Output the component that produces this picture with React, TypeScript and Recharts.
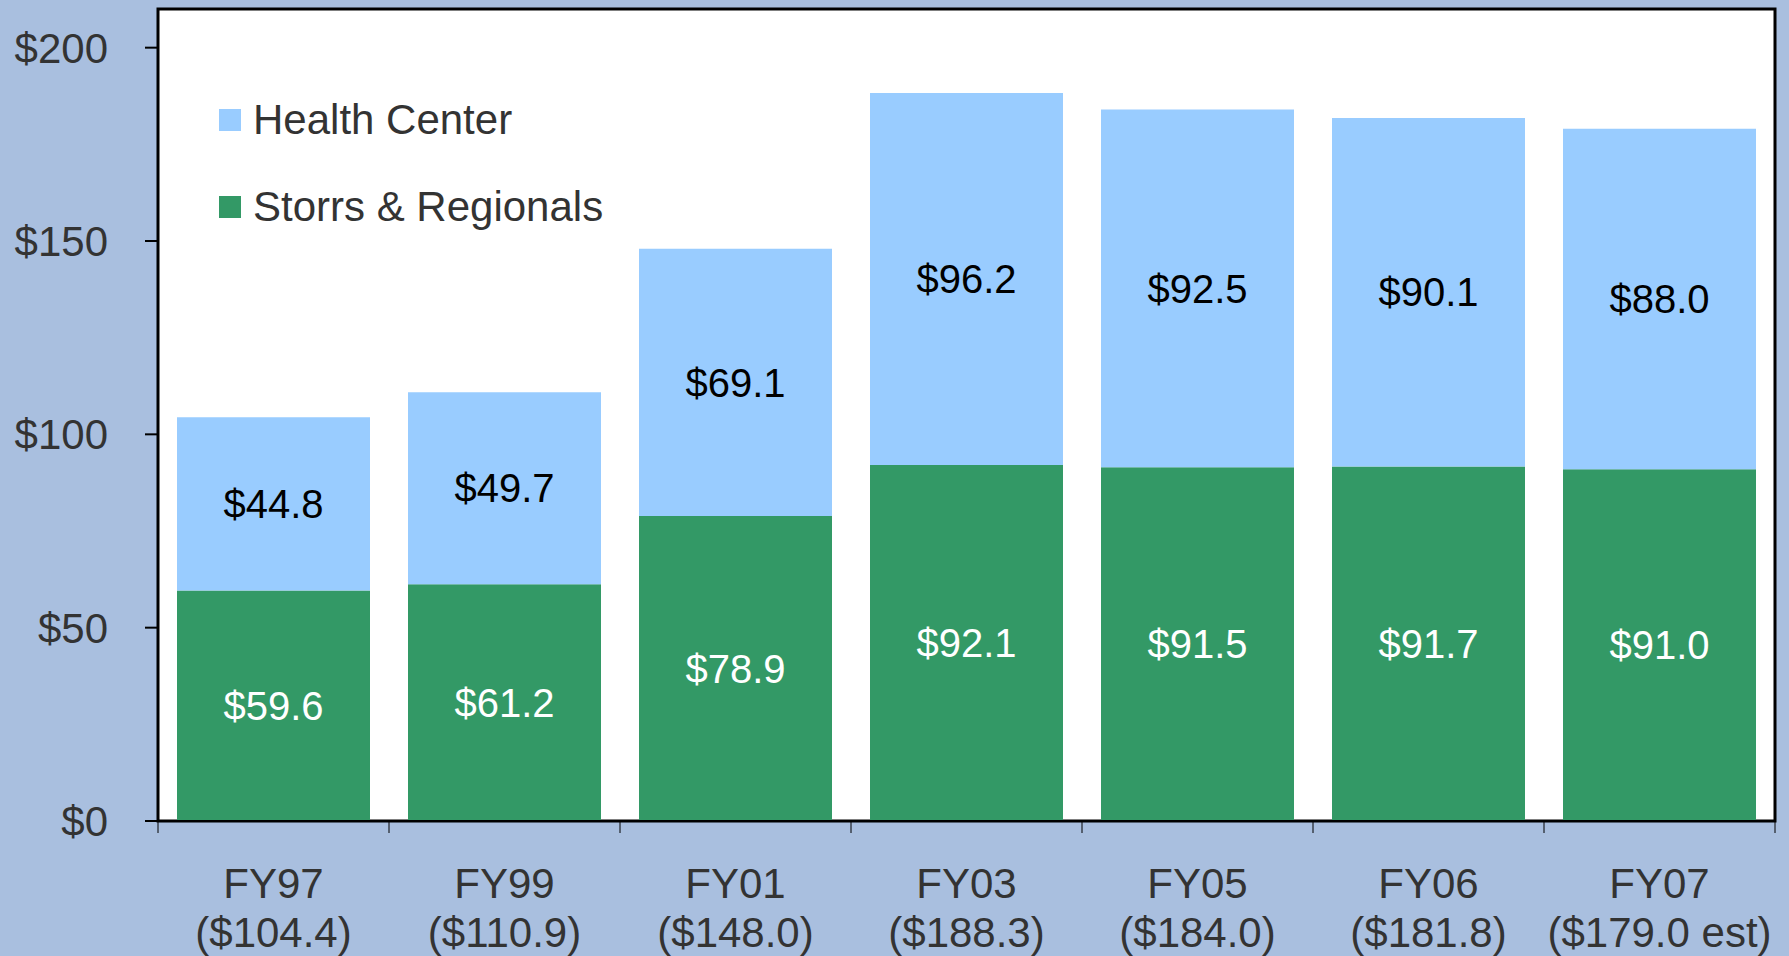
import { BarChart, Bar, XAxis, YAxis, CartesianGrid, LabelList, ReferenceArea } from 'recharts';

const categories = ['FY97', 'FY99', 'FY01', 'FY03', 'FY05', 'FY06', 'FY07'];
const totalLabels = ['($104.4)', '($110.9)', '($148.0)', '($188.3)', '($184.0)', '($181.8)', '($179.0 est)'];
const storrsValues = [59.6, 61.2, 78.9, 92.1, 91.5, 91.7, 91.0];
const healthValues = [44.8, 49.7, 69.1, 96.2, 92.5, 90.1, 88.0];
const yTicks = [0, 50, 100, 150, 200];

const W = 1789;
const H = 956;
const LEFT = 158;
const RIGHT = 14;
const FONT = '"Liberation Sans", Arial, sans-serif';
const TEXT = '#333333';
const BG = '#A9BFDF';
const GREEN = '#339966';
const BLUE = '#99CCFF';

const data = categories.map((name, i) => ({
    name,
    total: totalLabels[i],
    storrs: storrsValues[i],
    health: healthValues[i],
}));

const band = (W - LEFT - RIGHT) / categories.length;

function XTick(props: any) {
    const { x, y, payload, index } = props;
    const half = payload?.offset || band / 2;
    const label = data[index]?.total ?? '';
    return (
        <g>
            <line x1={x - half} x2={x - half} y1={y} y2={y + 12} stroke="#000" strokeWidth={1} />
            {index === categories.length - 1 && (
                <line x1={x + half} x2={x + half} y1={y} y2={y + 12} stroke="#000" strokeWidth={1} />
            )}
            <text x={x} y={y + 77} textAnchor="middle" fill={TEXT} fontSize={42} fontFamily={FONT}>
                {payload.value}
            </text>
            <text x={x} y={y + 126} textAnchor="middle" fill={TEXT} fontSize={42} fontFamily={FONT}>
                {label}
            </text>
        </g>
    );
}

// legend is overlaid by hand so it does not push the plot area around
function LegendBox() {
    const items = [
        { label: 'Health Center', color: BLUE },
        { label: 'Storrs & Regionals', color: GREEN },
    ];
    return (
        <div style={{ position: 'absolute', left: 219, top: 76 }}>
            {items.map((it) => (
                <div key={it.label} style={{ display: 'flex', alignItems: 'center', height: 87 }}>
                    <div style={{ width: 22, height: 22, background: it.color, marginRight: 12 }} />
                    <span style={{ fontSize: 42, fontFamily: FONT, color: TEXT, whiteSpace: 'nowrap' }}>{it.label}</span>
                </div>
            ))}
        </div>
    );
}

const money = (v: any) => `$${Number(v).toFixed(1)}`;

export default function App() {
    return (
        <div style={{ position: 'absolute', left: 0, top: 0, width: W, height: H, background: BG, overflow: 'hidden' }}>
            <BarChart
                width={W}
                height={H}
                data={data}
                margin={{ top: 9, right: RIGHT, left: 0, bottom: 0 }}
                barCategoryGap={19}
            >
                <CartesianGrid horizontal={false} vertical={false} fill="#ffffff" />
                <YAxis
                    width={LEFT}
                    domain={[0, 210]}
                    ticks={yTicks}
                    allowDataOverflow
                    axisLine={false}
                    tickLine={{ stroke: '#000', strokeWidth: 2 }}
                    tickSize={13}
                    tickMargin={37}
                    tick={{ fill: TEXT, fontSize: 42, fontFamily: FONT }}
                    tickFormatter={(v) => `$${v}`}
                />
                <XAxis
                    dataKey="name"
                    height={135}
                    interval={0}
                    axisLine={{ stroke: '#000', strokeWidth: 2 }}
                    tickLine={false}
                    tickSize={0}
                    tickMargin={0}
                    tick={<XTick />}
                />
                <ReferenceArea y1={0} y2={210} fill="none" stroke="#000" strokeWidth={3} ifOverflow="visible" />
                <Bar dataKey="storrs" stackId="a" fill={GREEN} isAnimationActive={false}>
                    <LabelList dataKey="storrs" position="center" fill="#ffffff" fontSize={40} fontFamily={FONT} formatter={money} />
                </Bar>
                <Bar dataKey="health" stackId="a" fill={BLUE} isAnimationActive={false}>
                    <LabelList dataKey="health" position="center" fill="#000000" fontSize={40} fontFamily={FONT} formatter={money} />
                </Bar>
            </BarChart>
            <LegendBox />
        </div>
    );
}
